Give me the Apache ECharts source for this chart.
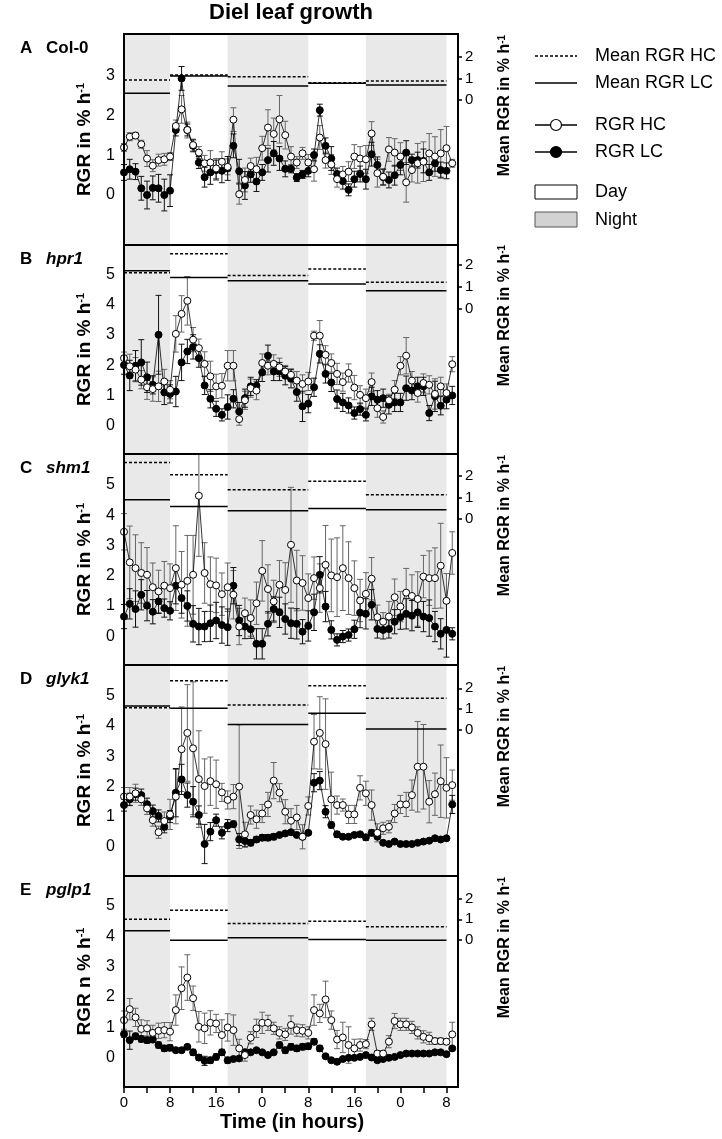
<!DOCTYPE html>
<html><head><meta charset="utf-8">
<script src="https://cdn.jsdelivr.net/npm/echarts@6/dist/echarts.min.js"></script>
<style>html,body{margin:0;padding:0;background:#fff}#c{width:722px;height:1139px}</style>
</head><body><div id="c"></div>
<script>
// ---------- DATA ----------
const hours = [0,1,2,3,4,5,6,7,8,9,10,11,12,13,14,15,16,17,18,19,20,21,22,23,24,25,26,27,28,29,30,31,32,33,34,35,36,37,38,39,40,41,42,43,44,45,46,47,48,49,50,51,52,53,54,55,56,57];
const xTickLabels = ['0','8','16','0','8','16','0','8'];
const nightPeriods = [[0,8],[18,32],[42,56]];
const meanPeriods = [[0,8],[8,18],[18,32],[32,42],[42,56]];
const panelLetters = ['A','B','C','D','E'];
const panelNames = ['Col-0','hpr1','shm1','glyk1','pglp1'];
const leftTitles = ['RGR in % h','RGR in % h','RGR in % h','RGR in % h','RGR n % h'];
const rightTitle = 'Mean RGR in % h';
const leftTicksA = [0,1,2,3];
const leftTicksBE = [0,1,2,3,4,5];
const rightTicks = [0,1,2];

// Panel A: Col-0
const A_HC = [1.2,1.47,1.5,1.28,0.92,0.74,0.88,0.9,0.97, 1.74,2.16,1.64,1.26,1.07,0.8,0.82,0.67,0.84,0.71, 1.9,0.02,0.38,0.73,0.65,1.18,1.7,1.54,1.91,1.51,0.97,0.82,1.05,0.82, 0.65,1.45,0.88,0.77,0.4,0.52,0.59,0.97,0.92,0.9, 1.55,0.55,0.46,1.15,1.07,0.97,0.32,0.63,0.8,0.84,1.05,0.97,1.05,1.18,0.8];
const A_LC = [0.57,0.65,0.59,0.17,0.0,0.18,0.17,0.0,0.11, 1.64,2.94,1.64,1.24,0.82,0.45,0.57,0.63,0.61,0.67, 1.24,0.6,0.24,0.52,0.34,0.57,0.88,1.05,0.92,0.66,0.66,0.44,0.52,0.61, 1.01,2.14,1.24,0.92,0.53,0.35,0.13,0.4,0.53,0.4, 1.03,0.76,0.45,0.38,0.5,0.76,1.07,0.88,0.88,0.86,0.57,0.8,0.63,0.61,null];
const A_HC_err = [0.1,0.1,0.08,0.1,0.2,0.15,0.15,0.15,0.1, 0.15,0.35,0.2,0.15,0.15,0.2,0.3,0.25,0.25,0.2, 0.3,0.25,0.3,0.2,0.3,0.3,0.45,0.4,0.6,0.35,0.25,0.15,0.15,0.2, 0.3,0.3,0.2,0.25,0.2,0.2,0.25,0.3,0.3,0.35, 0.3,0.35,0.2,0.3,0.35,0.35,0.5,0.3,0.5,0.5,0.5,0.5,0.6,0.55,0.1];
const A_LC_err = [0.2,0.25,0.2,0.3,0.35,0.3,0.35,0.4,0.4, 0.15,0.3,0.15,0.15,0.15,0.25,0.3,0.25,0.3,0.3, 0.3,0.3,0.35,0.2,0.25,0.2,0.3,0.3,0.3,0.2,0.1,0.1,0.1,0.15, 0.15,0.15,0.2,0.3,0.15,0.2,0.15,0.2,0.2,0.25, 0.3,0.2,0.2,0.2,0.25,0.25,0.3,0.15,0.2,0.3,0.2,0.2,0.2,0.2,null];
const A_meanHC = [0.92,1.15,1.08,0.80,0.88];
const A_meanLC = [0.31,1.11,0.65,0.77,0.69];

// Panel B: hpr1
const B_HC = [2.23,1.96,1.85,1.52,1.27,1.21,1.3,1.46,1.19, 3.03,3.69,4.12,2.84,2.56,2.04,1.63,1.3,1.32,1.98, 1.98,0.22,0.84,1.24,1.16,2.07,1.98,2.04,1.93,1.79,1.68,1.49,1.38,1.46, 2.97,2.97,2.34,2.07,1.71,1.44,1.74,1.26,1.02,0.91, 1.44,0.58,0.29,0.84,1.19,1.98,2.31,1.49,1.08,1.41,1.35,1.05,1.3,1.08,2.03];
const B_LC = [2.0,1.66,1.98,2.09,1.6,1.35,3.0,1.1,1.05, 1.13,2.09,2.45,2.6,2.23,1.33,0.89,0.56,0.36,0.62, 0.89,0.47,0.91,1.3,1.32,1.76,2.31,1.79,1.79,1.65,1.55,1.11,0.64,0.73, 1.27,2.37,1.71,1.43,0.88,0.77,0.67,0.42,0.55,0.36, 0.97,0.86,0.91,0.69,0.77,0.77,1.24,1.16,1.3,1.3,0.42,0.97,0.66,0.86,1.0];
const B_HC_err = [0.2,0.4,0.4,0.3,0.4,0.4,0.5,0.4,0.3, 0.6,0.6,0.8,0.4,0.3,0.4,0.5,0.4,0.4,0.5, 0.5,0.2,0.3,0.3,0.3,0.3,0.3,0.3,0.3,0.2,0.2,0.3,0.3,0.3, 0.15,0.5,0.3,0.3,0.35,0.3,0.3,0.4,0.3,0.3, 0.3,0.3,0.2,0.2,0.3,0.3,0.6,0.3,0.3,0.3,0.3,0.5,0.3,0.3,0.25];
const B_LC_err = [0.3,0.5,0.5,0.75,0.5,0.3,1.3,0.4,0.3, 0.5,0.6,0.4,0.4,0.3,0.3,0.3,0.25,0.2,0.4, 0.3,0.3,0.3,0.3,0.2,0.3,0.35,0.3,0.3,0.3,0.3,0.3,0.5,0.3, 0.3,0.3,0.3,0.3,0.3,0.3,0.25,0.2,0.2,0.2, 0.3,0.3,0.3,0.3,0.3,0.3,0.4,0.3,0.3,0.3,0.25,0.5,0.3,0.3,0.3];
const B_meanHC = [1.65,2.50,1.52,1.81,1.22];
const B_meanLC = [1.74,1.43,1.28,1.14,0.83];

// Panel C: shm1
const C_HC = [3.45,2.44,2.25,2.09,2.03,1.62,1.48,1.67,1.59, 2.25,1.7,1.83,2.03,4.64,2.09,1.72,1.68,1.39,1.62, 1.37,0.32,0.76,0.6,1.09,2.16,1.56,1.15,1.7,1.53,3.02,1.84,1.76,1.26, 1.92,1.59,2.36,2.01,1.95,2.25,1.92,1.59,1.18,1.4, 1.9,0.63,0.48,0.65,1.29,0.98,1.44,1.33,1.23,1.97,1.92,1.92,2.33,1.17,2.75];
const C_LC = [0.65,1.07,0.9,1.37,1.01,0.81,1.15,0.93,0.84, 1.67,1.26,1.0,0.41,0.32,0.32,0.43,0.52,0.37,0.3, 1.67,0.52,0.32,0.23,-0.25,-0.25,0.41,0.9,0.79,0.57,0.43,0.41,0.15,0.34, 0.79,2.03,0.98,0.21,-0.12,-0.01,0.04,0.23,0.78,0.74, 1.04,0.24,0.21,0.24,0.48,0.63,0.74,0.68,0.79,0.65,0.6,0.32,0.08,0.21,0.08];
const C_HC_err = [0.6,1.2,1.1,1.0,0.9,0.8,0.7,0.8,0.8, 1.4,1.1,1.5,1.3,2.0,1.0,0.9,0.9,0.7,0.8, 0.8,0.6,0.5,0.6,0.7,1.0,0.8,0.7,0.8,0.9,1.9,1.0,0.9,0.8, 0.7,0.8,1.3,1.2,1.3,1.4,1.2,0.9,0.7,0.7, 0.7,0.4,0.3,0.5,0.6,0.5,0.8,0.7,0.9,0.7,0.9,1.0,1.4,0.9,0.7];
const C_LC_err = [0.4,0.5,0.6,0.5,0.5,0.4,0.4,0.3,0.3, 0.6,0.5,0.5,0.6,0.6,0.5,0.6,0.6,0.6,0.6, 0.6,0.5,0.4,0.3,0.5,0.5,0.4,0.4,0.5,0.5,0.5,0.5,0.4,0.5, 0.6,0.6,0.5,0.3,0.2,0.2,0.2,0.3,0.5,0.5, 0.5,0.3,0.3,0.3,0.4,0.4,0.5,0.5,0.5,0.5,0.6,0.5,0.5,0.9,0.2];
const C_meanHC = [2.61,2.04,1.35,1.74,1.12];
const C_meanLC = [0.89,0.58,0.38,0.49,0.43];

// Panel D: glyk1
const D_HC = [1.66,1.66,1.77,1.57,1.27,0.88,0.48,0.85,1.07, 1.66,3.23,3.77,3.26,2.24,2.01,2.17,2.07,1.8,1.55, 1.66,1.99,0.41,1.05,0.91,1.1,1.4,2.19,1.79,1.16,0.86,0.97,0.33,1.35, 3.48,3.77,3.4,1.57,1.38,1.38,1.07,1.07,1.95,1.77, 1.38,0.46,0.61,0.66,1.1,1.4,1.4,1.71,2.65,2.65,1.49,1.74,2.17,1.95,2.04];
const D_LC = [1.38,1.57,1.74,1.71,1.41,1.18,1.02,0.66,1.0, 1.79,2.23,1.71,1.49,1.05,0.09,0.5,0.88,0.46,0.7, 0.75,0.24,0.19,0.13,0.24,0.3,0.3,0.33,0.39,0.44,0.48,0.39,0.33,0.46, 2.12,2.19,1.16,0.72,0.41,0.33,0.33,0.39,0.41,0.31, 0.46,0.33,0.13,0.09,0.17,0.09,0.09,0.09,0.13,0.17,0.2,0.28,0.24,0.28,1.4];
const D_HC_err = [0.3,0.3,0.3,0.2,0.2,0.2,0.2,0.3,0.5, 0.9,1.4,1.6,2.2,1.6,0.9,0.8,0.8,0.3,0.3, 0.4,2.05,0.4,0.3,0.3,0.3,0.4,0.6,0.3,0.4,0.4,0.4,0.4,0.3, 0.9,1.2,1.5,0.9,0.3,0.2,0.3,0.3,0.4,0.4, 0.5,0.3,0.2,0.2,0.3,0.3,0.4,0.5,1.5,1.4,0.7,0.7,1.2,1.0,0.5];
const D_LC_err = [0.2,0.2,0.2,0.2,0.2,0.2,0.2,0.2,0.2, 0.8,0.5,0.4,0.5,0.3,0.65,0.3,0.2,0.2,0.2, 0.1,0.2,0.2,0.1,0.1,0.1,0.1,0.1,0.05,0.05,0.05,0.05,0.05,0.05, 0.3,0.3,0.2,0.1,0.1,0.05,0.05,0.05,0.05,0.1, 0.1,0.05,0.05,0.05,0.05,0.05,0.05,0.05,0.05,0.05,0.05,0.05,0.05,0.05,0.3];
const D_meanHC = [1.07,2.37,1.20,2.12,1.52];
const D_meanLC = [1.15,1.04,0.27,0.80,0.05];

// Panel E: pglp1
const E_HC = [1.24,1.6,1.33,0.95,0.97,0.82,0.89,0.91,0.86, 1.57,2.29,2.64,1.96,1.02,0.97,1.15,1.13,0.75,1.0, 0.91,0.31,0.09,0.66,0.97,1.15,1.15,0.97,0.82,0.77,1.08,0.91,0.89,0.82, 1.57,1.46,1.92,1.24,0.6,0.67,0.42,0.31,0.42,0.45, 1.1,0.14,0.14,0.53,1.21,1.1,1.1,1.0,0.82,0.69,0.64,0.55,0.55,0.53,0.77];
const E_LC = [0.78,0.58,0.71,0.62,0.58,0.6,0.42,0.31,0.33, 0.25,0.25,0.36,0.18,0.01,-0.1,-0.08,0.03,0.18,-0.08, -0.04,-0.02,0.18,0.18,0.25,0.18,0.09,0.18,0.42,0.25,0.36,0.31,0.36,0.38, 0.53,0.31,0.05,-0.08,-0.13,-0.04,0.0,0.0,0.03,0.09, 0.01,-0.08,-0.04,0.0,0.03,0.09,0.14,0.14,0.14,0.14,0.14,0.18,0.18,0.12,0.31];
const E_HC_err = [0.3,0.35,0.3,0.3,0.25,0.25,0.25,0.25,0.3, 0.5,0.7,0.75,0.4,0.5,0.5,0.4,0.3,0.5,0.45, 0.5,0.3,0.2,0.2,0.3,0.35,0.25,0.2,0.2,0.2,0.3,0.2,0.2,0.2, 0.5,0.3,0.6,0.3,0.3,0.5,0.6,0.3,0.2,0.15, 0.2,0.1,0.1,0.2,0.25,0.2,0.2,0.2,0.2,0.2,0.2,0.1,0.1,0.1,0.4];
const E_LC_err = [0.1,0.3,0.1,0.1,0.1,0.1,0.1,0.1,0.1, 0.05,0.05,0.05,0.1,0.1,0.15,0.1,0.1,0.1,0.1, 0.05,0.05,0.05,0.05,0.05,0.05,0.05,0.05,0.1,0.1,0.1,0.1,0.1,0.1, 0.1,0.1,0.05,0.05,0.05,0.05,0.05,0.05,0.05,0.05, 0.05,0.05,0.05,0.05,0.05,0.05,0.05,0.05,0.05,0.05,0.05,0.05,0.05,0.05,0.05];
const E_meanHC = [1.00,1.44,0.80,0.91,0.64];
const E_meanLC = [0.45,0.00,0.11,0.03,0.00];

// ---------- LAYOUT ----------
const FONT = "'Liberation Sans', Arial, Helvetica, sans-serif";
const GL = 124, GW = 334;
const panels = [
  {top:34,  h:211, lmin:-1.26, lmax:4.06, rmin:-6.70, rmax:3.05, ticks:leftTicksA,  hc:A_HC, lc:A_LC, hce:A_HC_err, lce:A_LC_err, mhc:A_meanHC, mlc:A_meanLC},
  {top:245, h:209, lmin:-0.93, lmax:5.96, rmin:-6.55, rmax:2.90, ticks:leftTicksBE, hc:B_HC, lc:B_LC, hce:B_HC_err, lce:B_LC_err, mhc:B_meanHC, mlc:B_meanLC},
  {top:454, h:211, lmin:-0.95, lmax:6.02, rmin:-6.72, rmax:3.00, ticks:leftTicksBE, hc:C_HC, lc:C_LC, hce:C_HC_err, lce:C_LC_err, mhc:C_meanHC, mlc:C_meanLC},
  {top:665, h:211, lmin:-0.97, lmax:6.02, rmin:-7.00, rmax:3.12, ticks:leftTicksBE, hc:D_HC, lc:D_LC, hce:D_HC_err, lce:D_LC_err, mhc:D_meanHC, mlc:D_meanLC},
  {top:876, h:211, lmin:-0.96, lmax:5.98, rmin:-7.05, rmax:3.08, ticks:leftTicksBE, hc:E_HC, lc:E_LC, hce:E_HC_err, lce:E_LC_err, mhc:E_meanHC, mlc:E_meanLC}
];

function errRender(color){
  return function(params, api){
    const cs = params.coordSys;
    const x = api.value(0), y = api.value(1), e = api.value(2);
    const a = api.coord([x, y + e]), b = api.coord([x, y - e]);
    const y0 = cs.y, y1 = cs.y + cs.height;
    const top = Math.max(y0, a[1]), bot = Math.min(y1, b[1]);
    const st = {stroke: color, lineWidth: 1};
    const ch = [{type:'line', shape:{x1:a[0], y1:top, x2:a[0], y2:bot}, style:st}];
    if (a[1] >= y0) ch.push({type:'line', shape:{x1:a[0]-3, y1:a[1], x2:a[0]+3, y2:a[1]}, style:st});
    if (b[1] <= y1) ch.push({type:'line', shape:{x1:b[0]-3, y1:b[1], x2:b[0]+3, y2:b[1]}, style:st});
    return {type:'group', children:ch};
  };
}
function segRender(dash){
  return function(params, api){
    const p0 = api.coord([api.value(0), api.value(2)]);
    const p1 = api.coord([api.value(1), api.value(2)]);
    return {type:'line', shape:{x1:p0[0], y1:p0[1], x2:p1[0], y2:p1[1]},
      style:{stroke:'#000', lineWidth:1.5, lineDash: dash ? [3,2] : null}};
  };
}
function nightRender(params, api){
  const cs = params.coordSys;
  const p0 = api.coord([api.value(0), 0]);
  const p1 = api.coord([api.value(1), 0]);
  return {type:'rect', shape:{x:p0[0], y:cs.y, width:p1[0]-p0[0], height:cs.height}, style:{fill:'#e9e9e9'}};
}

const grid = [], xAxis = [], yAxis = [], series = [], graphic = [];
panels.forEach((p, i) => {
  grid.push({left:GL, width:GW, top:p.top, height:p.h});
  const bottom = i === panels.length - 1;
  xAxis.push({
    type:'value', gridIndex:i, min:0, max:58, show:bottom, position:'bottom',
    axisLine:{show:bottom, onZero:false, lineStyle:{color:'#000', width:2}},
    axisTick:{show:bottom, inside:false, length:6, customValues:[0,4,8,12,16,20,24,28,32,36,40,44,48,52,56], lineStyle:{color:'#000', width:1.5}},
    axisLabel:{show:bottom, customValues:[0,8,16,24,32,40,48,56], color:'#000', fontSize:15, fontFamily:FONT, margin:8,
      formatter: v => (v % 8 === 0 && v <= 56) ? xTickLabels[v/8] : ''},
    splitLine:{show:false}
  });
  yAxis.push({
    type:'value', gridIndex:i, position:'left', min:p.lmin, max:p.lmax,
    axisLine:{show:false, onZero:false}, axisTick:{show:false}, splitLine:{show:false},
    axisLabel:{customValues:p.ticks, color:'#000', fontSize:16, fontFamily:FONT, margin:9}
  });
  yAxis.push({
    type:'value', gridIndex:i, position:'right', min:p.rmin, max:p.rmax,
    axisLine:{show:false, onZero:false}, splitLine:{show:false},
    axisTick:{show:true, length:4, customValues:rightTicks, lineStyle:{color:'#000', width:1.5}},
    axisLabel:{customValues:rightTicks, color:'#000', fontSize:15, fontFamily:FONT, margin:7}
  });
  const ly = 2*i, ry = 2*i + 1;
  series.push({type:'custom', xAxisIndex:i, yAxisIndex:ly, silent:true, z:0,
    renderItem:nightRender, data:nightPeriods, encode:{x:[0,1]}});
  const errData = (vals, errs) => vals.map((v,k) => v == null ? null : [hours[k], v, errs[k]]).filter(Boolean);
  series.push({type:'custom', xAxisIndex:i, yAxisIndex:ly, silent:true, z:1,
    renderItem:errRender('#666'), data:errData(p.hc, p.hce), encode:{x:0, y:1}});
  series.push({type:'custom', xAxisIndex:i, yAxisIndex:ly, silent:true, z:1,
    renderItem:errRender('#111'), data:errData(p.lc, p.lce), encode:{x:0, y:1}});
  series.push({type:'custom', xAxisIndex:i, yAxisIndex:ry, silent:true, z:2,
    renderItem:segRender(true), data:meanPeriods.map((s,k)=>[s[0], s[1], p.mhc[k]]), encode:{x:[0,1], y:2}});
  series.push({type:'custom', xAxisIndex:i, yAxisIndex:ry, silent:true, z:2,
    renderItem:segRender(false), data:meanPeriods.map((s,k)=>[s[0], s[1], p.mlc[k]]), encode:{x:[0,1], y:2}});
  const lineData = vals => vals.map((v,k) => [hours[k], v]).filter(d => d[1] != null);
  series.push({type:'line', xAxisIndex:i, yAxisIndex:ly, z:3, silent:true, animation:false,
    data:lineData(p.lc), symbol:'circle', symbolSize:7, showSymbol:true,
    lineStyle:{color:'#000', width:0.8}, itemStyle:{color:'#000', borderColor:'#000', borderWidth:1}});
  series.push({type:'line', xAxisIndex:i, yAxisIndex:ly, z:4, silent:true, animation:false,
    data:lineData(p.hc), symbol:'circle', symbolSize:7, showSymbol:true,
    lineStyle:{color:'#000', width:0.8}, itemStyle:{color:'#fff', borderColor:'#000', borderWidth:1}});

  // panel frame
  graphic.push({type:'rect', z:100, silent:true, shape:{x:GL, y:p.top, width:GW, height:p.h},
    style:{fill:null, stroke:'#000', lineWidth:2}});
  // panel letter + name
  graphic.push({type:'text', z:100, x:20, y:p.top + 14, style:{text:panelLetters[i], font:`bold 17px ${FONT}`, fill:'#000', verticalAlign:'middle'}});
  graphic.push({type:'text', z:100, x:46, y:p.top + 14, style:{text:panelNames[i], font:`${i===0?'':'italic '}bold 17px ${FONT}`, fill:'#000', verticalAlign:'middle'}});
  // axis titles
  graphic.push({type:'text', z:100, x:85, y:p.top + p.h/2, rotation:Math.PI/2,
    style:{text:leftTitles[i] + '{s|-1}', font:`bold 19px ${FONT}`, fill:'#000', align:'center', verticalAlign:'middle',
      rich:{s:{fontSize:11, fontWeight:'bold', fontFamily:FONT, verticalAlign:'top', lineHeight:19}}}});
  graphic.push({type:'text', z:100, x:505, y:p.top + p.h/2 - 34, rotation:Math.PI/2,
    style:{text:rightTitle + '{s|-1}', font:`bold 16px ${FONT}`, fill:'#000', align:'center', verticalAlign:'middle',
      rich:{s:{fontSize:10, fontWeight:'bold', fontFamily:FONT, verticalAlign:'top', lineHeight:16}}}});
});

// title and x-axis title
graphic.push({type:'text', z:100, x:291, y:13, style:{text:'Diel leaf growth', font:`bold 22px ${FONT}`, fill:'#000', align:'center', verticalAlign:'middle'}});
graphic.push({type:'text', z:100, x:292, y:1122, style:{text:'Time (in hours)', font:`bold 20px ${FONT}`, fill:'#000', align:'center', verticalAlign:'middle'}});

// legend
const LX0 = 535, LX1 = 577, TX = 595;
const legendText = (t, y) => ({type:'text', z:100, x:TX, y:y, style:{text:t, font:`18px ${FONT}`, fill:'#000', verticalAlign:'middle'}});
graphic.push({type:'line', z:100, shape:{x1:LX0, y1:56, x2:LX1, y2:56}, style:{stroke:'#000', lineWidth:1.5, lineDash:[3,2]}});
graphic.push(legendText('Mean RGR HC', 56));
graphic.push({type:'line', z:100, shape:{x1:LX0, y1:83, x2:LX1, y2:83}, style:{stroke:'#000', lineWidth:1.5}});
graphic.push(legendText('Mean RGR LC', 83));
graphic.push({type:'line', z:100, shape:{x1:LX0, y1:125, x2:LX1, y2:125}, style:{stroke:'#000', lineWidth:1.5}});
graphic.push({type:'circle', z:101, shape:{cx:556, cy:125, r:5.5}, style:{fill:'#fff', stroke:'#000', lineWidth:1.2}});
graphic.push(legendText('RGR HC', 125));
graphic.push({type:'line', z:100, shape:{x1:LX0, y1:152, x2:LX1, y2:152}, style:{stroke:'#000', lineWidth:1.5}});
graphic.push({type:'circle', z:101, shape:{cx:556, cy:152, r:5.5}, style:{fill:'#000', stroke:'#000', lineWidth:1.2}});
graphic.push(legendText('RGR LC', 152));
graphic.push({type:'rect', z:100, shape:{x:LX0, y:185, width:42, height:14}, style:{fill:'#fff', stroke:'#000', lineWidth:1}});
graphic.push(legendText('Day', 192));
graphic.push({type:'rect', z:100, shape:{x:LX0, y:212, width:42, height:15}, style:{fill:'#d2d2d2', stroke:'#555', lineWidth:1}});
graphic.push(legendText('Night', 220));

const chart = echarts.init(document.getElementById('c'), null, {renderer:'canvas'});
chart.setOption({
  animation:false,
  backgroundColor:'#fff',
  textStyle:{fontFamily:FONT},
  grid, xAxis, yAxis, series, graphic
});
</script>
</body></html>
